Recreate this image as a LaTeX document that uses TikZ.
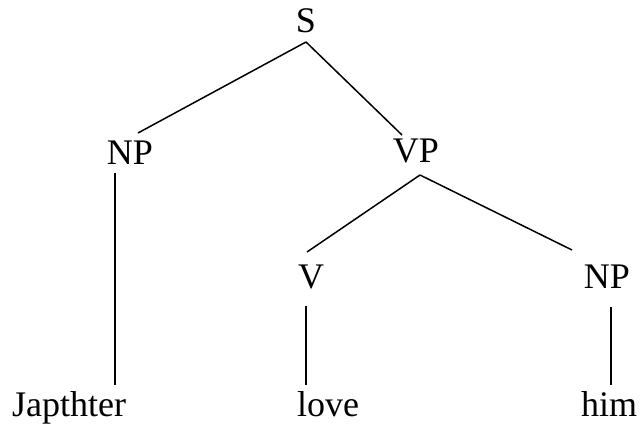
\documentclass[tikz,border=0pt]{standalone}
\usepackage{fontspec}
\setmainfont{Liberation Serif}
\usetikzlibrary{calc}
\begin{document}
\begin{tikzpicture}[x=1pt,y=-1pt,
  lbl/.style={anchor=base, inner sep=0pt, font=\fontsize{36}{43}\selectfont},
  edge/.style={line width=1.5pt, black}]
\useasboundingbox (0,0) rectangle (642,425);
\node[lbl] (S)   at (306,33)  {S};
\node[lbl] (NP1) at (130,164) {NP};
\node[lbl] (VP)  at (416,162) {VP};
\node[lbl] (V)   at (311,288) {V};
\node[lbl] (NP2) at (607,288) {NP};
\node[lbl] (W1)  at (69,416)  {Japthter};
\node[lbl] (W2)  at (328,416) {love};
\node[lbl] (W3)  at (609,416) {him};
\draw[edge] ($(S.base)+(0,9)$) -- ($(NP1.base)+(8,-31)$);
\draw[edge] ($(S.base)+(0,9)$) -- ($(VP.base)+(-14,-27)$);
\draw[edge] ($(NP1.base)+(-15,9)$) -- ($(W1.base)+(46,-31)$);
\draw[edge] ($(VP.base)+(4,13)$) -- ($(V.base)+(-4,-36)$);
\draw[edge] ($(VP.base)+(4,13)$) -- ($(NP2.base)+(-35,-38)$);
\draw[edge] ($(V.base)+(-5,18)$) -- ($(W2.base)+(-22,-31)$);
\draw[edge] ($(NP2.base)+(4,19)$) -- ($(W3.base)+(2,-31)$);
\end{tikzpicture}
\end{document}
